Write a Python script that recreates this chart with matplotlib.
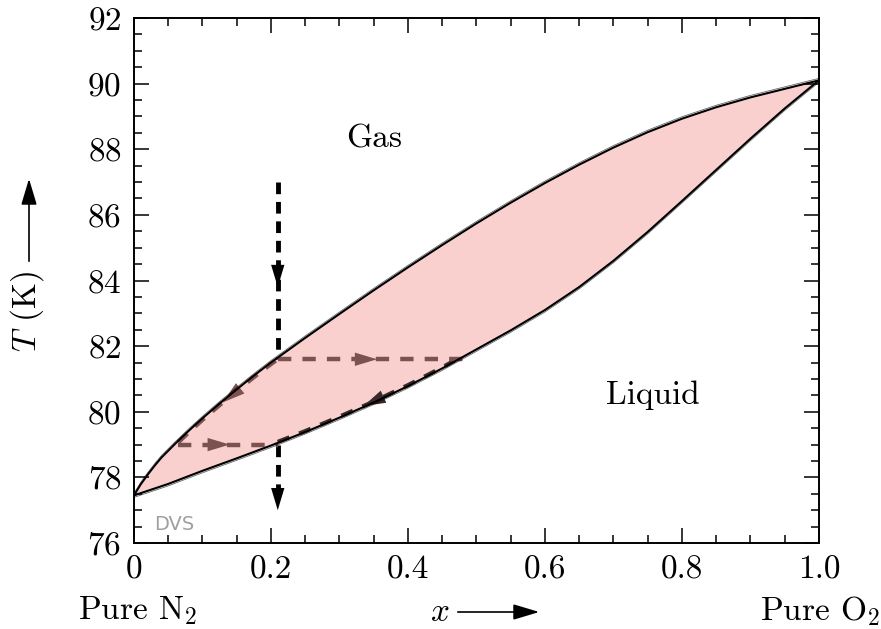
import numpy as np
import matplotlib
matplotlib.use("Agg")
import matplotlib.pyplot as plt
from matplotlib.patches import FancyArrowPatch
from matplotlib.ticker import MultipleLocator

plt.rcParams['font.family'] = ['cmr10', 'DejaVu Serif']
plt.rcParams['mathtext.fontset'] = 'cm'
plt.rcParams['axes.formatter.use_mathtext'] = True

# dew line (gas boundary)
xGas = [0, 0.005, 0.01, 0.02, 0.03, 0.04, 0.06, 0.08, 0.1, 0.125, 0.15, 0.175, 0.2,
        0.25, 0.3, 0.35, 0.4, 0.45, 0.5, 0.55, 0.6, 0.65, 0.7, 0.75, 0.8, 0.85, 0.9, 0.95, 1.0]
tGas = [77.45, 77.62, 77.79, 78.08, 78.35, 78.6, 79.02, 79.42, 79.8, 80.25, 80.68, 81.1, 81.5,
        82.25, 82.98, 83.7, 84.4, 85.08, 85.74, 86.37, 86.97, 87.53, 88.05, 88.52, 88.93,
        89.28, 89.58, 89.84, 90.1]

# bubble line (liquid boundary)
xLiq = [0, 0.05, 0.1, 0.15, 0.2, 0.25, 0.3, 0.35, 0.4, 0.45, 0.5,
        0.55, 0.6, 0.65, 0.7, 0.75, 0.8, 0.85, 0.9, 0.95, 1.0]
tLiq = [77.45, 77.8, 78.2, 78.58, 78.97, 79.38, 79.82, 80.28, 80.78, 81.32, 81.9,
        82.48, 83.1, 83.8, 84.6, 85.48, 86.42, 87.37, 88.32, 89.24, 90.1]

# cooling path
xPath = 0.21
tStart, tEnd = 87.0, 77.0
tTie1, xTie1 = 81.6, 0.48
tTie2, xTie2 = 79.0, 0.065

fillCol = '#f9d0ce'
brown = '#7b5250'

fig = plt.figure(figsize=(8.81, 6.29), dpi=100)
ax = fig.add_axes([0.152, 0.1367, 0.7775, 0.8347])

xg, tg = np.array(xGas), np.array(tGas)
xl, tl = np.array(xLiq), np.array(tLiq)
xs = np.union1d(xg, xl)
ax.fill_between(xs, np.interp(xs, xl, tl), np.interp(xs, xg, tg), color=fillCol, lw=0, zorder=1)


def head(x0, y0, x1, y1, col, ms=16):
  ax.annotate('', xy=(x1, y1), xytext=(x0, y0),
              arrowprops=dict(arrowstyle='-|>,head_length=1.0,head_width=0.3',
                              color=col, lw=0, shrinkA=0, shrinkB=0, mutation_scale=ms),
              zorder=5)


# vertical path (black)
ax.plot([xPath, xPath], [tStart, tTie1], color='black', lw=3.5, dashes=(2.4, 1.6), zorder=4)
ax.plot([xPath, xPath], [tTie2, tEnd + 0.4], color='black', lw=3.5, dashes=(2.4, 1.6), zorder=4)
head(xPath, 84.6, xPath, 83.8, 'black')
head(xPath, 77.8, xPath, tEnd, 'black')

# tie lines
ax.plot([xPath, xTie1], [tTie1, tTie1], color=brown, lw=3.2, dashes=(3, 2.5), zorder=4)
head(0.31, tTie1, 0.355, tTie1, brown)
ax.plot([xTie2, xPath], [tTie2, tTie2], color=brown, lw=3.2, dashes=(3, 2.5), zorder=4)
head(0.10, tTie2, 0.14, tTie2, brown)

# along the curves
m = (xg > xTie2) & (xg < xPath)
xu = np.r_[xTie2, xg[m], xPath]
ax.plot(xu, np.interp(xu, xg, tg) - 0.05, color=brown, lw=3, dashes=(3, 2.5), zorder=3)
head(0.16, np.interp(0.16, xg, tg) - 0.05, 0.13, np.interp(0.13, xg, tg) - 0.05, brown)
m = (xl > xPath) & (xl < xTie1)
xd = np.r_[xPath, xl[m], xTie1]
ax.plot(xd, np.interp(xd, xl, tl) + 0.03, color='#3a2a29', lw=3, dashes=(3, 2.5), zorder=3)
head(0.38, np.interp(0.38, xl, tl) + 0.03, 0.335, np.interp(0.335, xl, tl) + 0.03, '#3a2a29')

# phase boundaries
ax.plot(xg, tg, color='black', lw=1.5, zorder=6)
ax.plot(xg, tg + 0.06, color='black', lw=0.6, alpha=0.6, zorder=6)
ax.plot(xl, tl, color='black', lw=1.5, zorder=6)
ax.plot(xl, tl - 0.06, color='black', lw=0.6, alpha=0.6, zorder=6)

ax.text(0.35, 88.3, 'Gas', fontsize=24, ha='center', va='center')
ax.text(0.757, 80.5, 'Liquid', fontsize=24, ha='center', va='center')
ax.text(0.03, 76.55, 'DVS', fontsize=14, color='#a0a0a0', family='DejaVu Sans', ha='left', va='center')

ax.set_xlim(0, 1)
ax.set_ylim(76, 92)
ax.xaxis.set_minor_locator(MultipleLocator(0.05))
ax.yaxis.set_major_locator(MultipleLocator(2))
ax.yaxis.set_minor_locator(MultipleLocator(0.5))
ax.set_xticks([0, 0.2, 0.4, 0.6, 0.8, 1.0])
ax.set_xticklabels(['0', '0.2', '0.4', '0.6', '0.8', '1.0'])
ax.tick_params(which='both', direction='in', top=True, right=True, labelsize=24, width=1.1)
ax.tick_params(which='major', length=10.5, pad=9)
ax.tick_params(which='minor', length=5.5)
for s in ax.spines.values():
  s.set_linewidth(1.4)

# axis labels with arrows
fig.text(27 / 881, 1 - 311 / 629, '$T$ (K)', rotation=90, fontsize=24, ha='center', va='center')
fig.add_artist(FancyArrowPatch((29 / 881, 1 - 264 / 629), (29 / 881, 1 - 176 / 629),
               transform=fig.transFigure, arrowstyle='-|>,head_length=1.0,head_width=0.3',
               mutation_scale=16, color='black', lw=1.2))
fig.text(440 / 881, 1 - 612 / 629, '$x$', fontsize=24, ha='center', va='center')
fig.add_artist(FancyArrowPatch((455 / 881, 1 - 612 / 629), (542 / 881, 1 - 612 / 629),
               transform=fig.transFigure, arrowstyle='-|>,head_length=1.0,head_width=0.3',
               mutation_scale=16, color='black', lw=1.2))
fig.text(138 / 881, 1 - 611 / 629, r'Pure N$_2$', fontsize=24, ha='center', va='center')
fig.text(820 / 881, 1 - 611 / 629, r'Pure O$_2$', fontsize=24, ha='center', va='center')

fig.savefig('out.png', dpi=100)
